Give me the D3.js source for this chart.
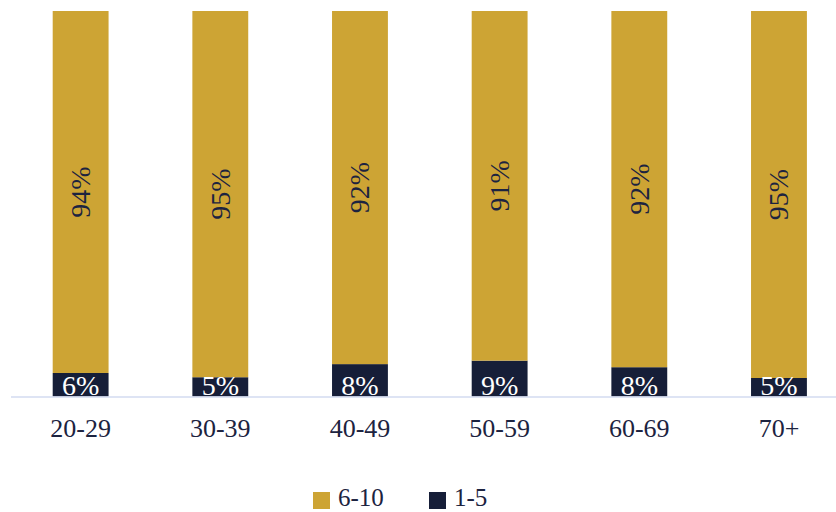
<!DOCTYPE html>
<html>
<head>
<meta charset="utf-8">
<script src="https://cdn.jsdelivr.net/npm/d3@7"></script>
<style>
  html, body { margin: 0; padding: 0; background: #fff; }
  svg { display: block; font-family: "Liberation Serif", "DejaVu Serif", serif; }
</style>
</head>
<body>
<div id="chart"></div>
<script>
// categories and values (share of respondents, %)
const ageGroups = ['20-29', '30-39', '40-49', '50-59', '60-69', '70+'];
const low = [6.1, 5.0, 8.4, 9.3, 7.6, 4.8];       // 1-5
const high = [93.9, 95.0, 91.6, 90.7, 92.4, 95.2]; // 6-10
const seriesNames = ['6-10', '1-5'];

const width = 836, height = 512;
const gold = '#cda434', navy = '#161e38', ink = '#1c2340';

const svg = d3.select('#chart').append('svg')
    .attr('width', width)
    .attr('height', height);

const x = d3.scaleBand()
    .domain(ageGroups)
    .range([10.8, 848.8])
    .paddingInner(0.6)
    .paddingOuter(0.3);

const y = d3.scaleLinear()
    .domain([0, 100])
    .range([396.5, 11]);

const rows = ageGroups.map((g, i) => ({ group: g, low: low[i], high: high[i] }));
const stack = d3.stack().keys(['low', 'high'])(rows);

// bars
svg.append('g').selectAll('g')
    .data(stack)
    .join('g')
    .attr('fill', d => d.key === 'low' ? navy : gold)
    .selectAll('rect')
    .data(d => d)
    .join('rect')
    .attr('x', d => x(d.data.group))
    .attr('width', x.bandwidth())
    .attr('y', d => y(d[1]))
    .attr('height', d => y(d[0]) - y(d[1]));

// axis line
svg.append('line')
    .attr('x1', 11).attr('x2', width)
    .attr('y1', 397).attr('y2', 397)
    .attr('stroke', '#d3dbf0')
    .attr('stroke-width', 1.5);

// category labels
svg.append('g').selectAll('text')
    .data(ageGroups)
    .join('text')
    .attr('x', d => x(d) + x.bandwidth() / 2)
    .attr('y', 437)
    .attr('text-anchor', 'middle')
    .attr('font-size', 26)
    .attr('fill', ink)
    .text(d => d);

// bottom segment labels (white)
svg.append('g').selectAll('text')
    .data(rows)
    .join('text')
    .attr('x', d => x(d.group) + x.bandwidth() / 2)
    .attr('y', 394.5)
    .attr('text-anchor', 'middle')
    .attr('font-size', 28)
    .attr('fill', '#fff')
    .text(d => Math.round(d.low) + '%');

// rotated labels in the gold segment
svg.append('g').selectAll('text')
    .data(rows)
    .join('text')
    .attr('transform', d => {
        const cx = x(d.group) + x.bandwidth() / 2;
        const cy = (y(d.low) + y(100)) / 2;
        return `translate(${cx},${cy}) rotate(-90)`;
    })
    .attr('text-anchor', 'middle')
    .attr('dy', '0.33em')
    .attr('font-size', 28)
    .attr('fill', ink)
    .text(d => Math.round(d.high) + '%');

// legend
const legend = svg.append('g');
const legendItems = [
    { name: seriesNames[0], color: gold, x: 313 },
    { name: seriesNames[1], color: navy, x: 429 }
];
const li = legend.selectAll('g')
    .data(legendItems)
    .join('g')
    .attr('transform', d => `translate(${d.x},492)`);
li.append('rect')
    .attr('width', 17).attr('height', 17)
    .attr('fill', d => d.color);
li.append('text')
    .attr('x', 25)
    .attr('y', 14)
    .attr('font-size', 25)
    .attr('fill', ink)
    .text(d => d.name);
</script>
</body>
</html>
